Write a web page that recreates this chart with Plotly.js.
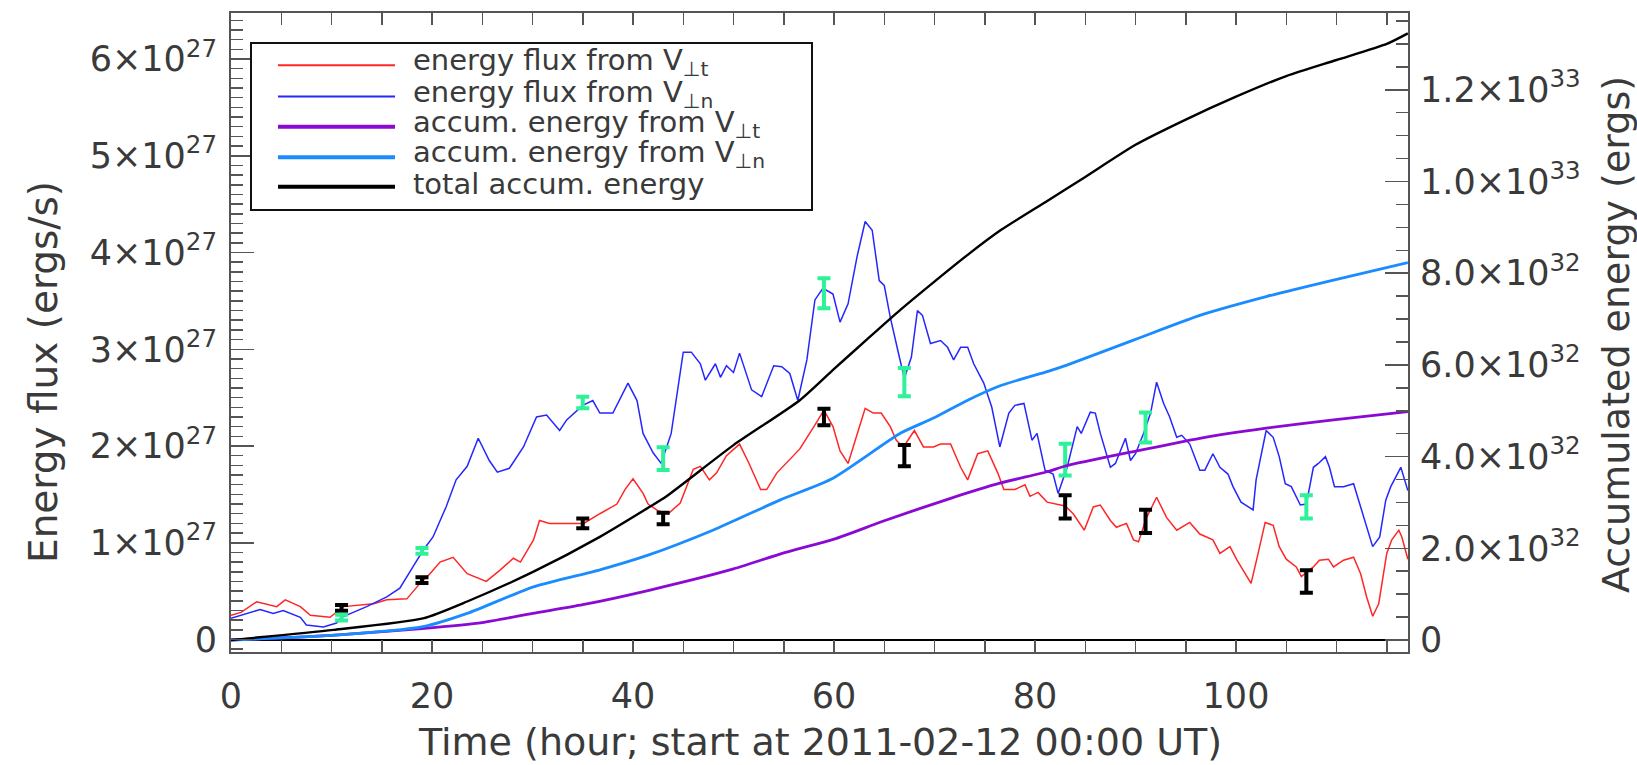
<!DOCTYPE html>
<html>
<head>
<meta charset="utf-8">
<script src="https://cdn.plot.ly/plotly-3.0.1.min.js"></script>
<style>
  html, body { margin: 0; padding: 0; background: #ffffff; }
  #chart { width: 1637px; height: 765px; }
</style>
</head>
<body>
<div id="chart"></div>
<script>
// Energy flux through the photosphere (units of 1e27 erg/s), time in hours from 2011-02-12 00:00 UT
const hoursT = [0,1,2.55,4.55,5.4,6.9,7.9,9.85,11.2,12.5,14.2,15.5,17.5,18.8,19.8,20.8,22.1,23.5,25.4,26.8,28.1,28.8,30.1,30.7,31.7,33.4,35.1,36.7,38.4,39.2,40,41,41.5,42.5,43.5,44.7,46,46.7,47.6,48.3,49.3,50.6,51.5,52.7,53.3,54.3,55.3,56.6,58,59,59.9,60.6,61.4,62.3,63.1,63.9,64.7,65.6,66.2,66.9,68,68.9,69.9,70.6,71.6,72.6,73.3,74.3,75.3,76.3,76.9,78,79,79.5,80.3,81.2,82,83,83.8,84.9,85.8,86.5,87.5,88.1,89.1,89.8,90.3,91.1,92.1,93.1,94.1,95.4,96.4,97.7,98.4,99.4,100.1,100.7,101.5,102.2,102.9,103.7,104.3,105,106,106.5,107.7,108.3,109.2,109.7,110.7,111.7,112.4,113,113.6,114.2,115,115.5,116.2,116.5,117.1];
const fluxT = [0.25,0.28,0.39,0.34,0.41,0.34,0.25,0.23,0.34,0.35,0.37,0.41,0.42,0.58,0.68,0.8,0.85,0.68,0.6,0.72,0.84,0.8,1.03,1.23,1.2,1.2,1.2,1.3,1.4,1.55,1.66,1.51,1.4,1.33,1.3,1.41,1.76,1.79,1.65,1.72,1.9,2.02,1.83,1.55,1.55,1.72,1.83,1.97,2.2,2.37,2.2,1.95,1.82,2.13,2.39,2.34,2.34,2.2,2.06,1.99,2.16,1.99,1.99,2.02,2.02,1.78,1.65,1.92,1.95,1.72,1.55,1.55,1.6,1.48,1.52,1.42,1.4,1.38,1.3,1.13,1.37,1.39,1.23,1.16,1.2,1.03,1.01,1.26,1.47,1.26,1.13,1.21,1.09,1.03,0.89,0.96,0.82,0.72,0.58,0.89,1.21,1.18,0.96,0.83,0.75,0.65,0.75,0.82,0.83,0.75,0.82,0.85,0.68,0.44,0.24,0.37,0.89,1.03,1.13,1.06,0.83];

const hoursN = [0,1.5,2.9,4.2,5.2,6.9,7.5,9.2,10.5,11,13.5,15.5,16.8,18.1,19.1,20.1,21.4,22.4,23.5,24.6,25.7,26.5,27.7,29.1,30.4,31.4,32.1,32.7,33.4,34.4,35,36,36.7,38,39.5,40.4,41,42,42.8,43.8,45,45.8,46.7,47.2,48.2,48.7,49.3,50,50.6,51.8,52.8,54,54.8,55.6,56.4,57.3,58.1,58.9,59.9,60.6,61.4,62.3,63.1,63.8,64.5,65,65.6,66.5,67,67.7,68.3,68.8,69.6,70.6,71.3,71.9,72.6,73.3,73.9,74.9,75.7,76.5,77.4,78,78.9,79.7,80.2,81,81.8,82.3,83.2,84.2,84.6,85.5,86,86.5,87.5,88,89,89.5,90,90.8,91.5,92.1,92.8,93.4,94.1,94.6,95.4,96.4,96.9,97.7,98.4,99.2,99.7,100.5,101.7,102,103,103.7,104.3,104.9,105.5,106.4,107,107.7,108.2,108.9,109.3,109.8,110.7,111.7,112.6,113.6,114.3,114.9,115.4,115.9,116.4,117.1];
const fluxN = [0.22,0.27,0.31,0.27,0.3,0.23,0.15,0.13,0.17,0.23,0.34,0.44,0.53,0.75,0.92,1.06,1.37,1.65,1.79,2.08,1.85,1.73,1.77,1.99,2.3,2.32,2.23,2.16,2.27,2.37,2.42,2.47,2.34,2.34,2.65,2.47,2.13,1.93,1.82,2.13,2.97,2.97,2.85,2.68,2.85,2.71,2.83,2.76,2.96,2.58,2.51,2.83,2.82,2.75,2.47,2.89,3.51,3.63,3.57,3.28,3.47,3.96,4.32,4.23,3.71,3.66,3.33,2.92,2.7,2.92,3.4,3.35,3.06,3.09,3.02,2.89,3.02,3.02,2.85,2.65,2.4,1.99,2.34,2.42,2.44,2.06,2.13,1.75,1.71,1.51,1.78,2.2,2.13,2.35,2.34,2.13,1.78,1.82,2.08,1.85,1.92,2.13,2.34,2.66,2.44,2.3,2.09,2.11,2.02,1.75,1.75,1.92,1.78,1.71,1.58,1.42,1.34,1.65,2.16,2.09,1.89,1.61,1.58,1.39,1.4,1.78,1.82,1.89,1.78,1.58,1.58,1.61,1.3,0.96,1.06,1.44,1.58,1.68,1.78,1.54];

// Accumulated energy (units of 1e32 erg)
const hoursAccT = [0,10,19,25,30,35,41.7,50,55,60,65,71.6,76.5,81.2,83.1,89.8,96.4,103,109.7,117.1];
const accT = [0,0.1,0.25,0.38,0.58,0.77,1.09,1.55,1.9,2.2,2.6,3.09,3.42,3.67,3.8,4.11,4.4,4.62,4.8,4.98];
const hoursAccN = [0,10,19.1,23.5,30.1,36.7,41.5,48,54.6,59.9,66.6,69.9,73.3,76.6,81.3,83.1,89.8,96.4,103,109.7,117.1];
const accN = [0,0.1,0.29,0.58,1.16,1.53,1.85,2.4,3.05,3.53,4.51,4.84,5.23,5.55,5.86,5.99,6.54,7.08,7.49,7.85,8.23];
const hoursAccTotal = [0,10.2,19.1,23.5,30.1,36.7,41.7,43.3,50,56.6,59.9,63.2,66.6,69.9,73.3,76.6,81.1,85,90,95,100,105,110,115,117.1];
const accTotal = [0,0.22,0.47,0.84,1.49,2.25,2.91,3.13,4.25,5.23,5.89,6.54,7.2,7.8,8.4,8.94,9.56,10.1,10.8,11.35,11.85,12.3,12.65,13.0,13.23];

// Sampled flux estimates with uncertainties (1e27 erg/s)
const sampleHours = [11,19,35,43,59,67,83,91,107];
const sampleT = [0.327,0.613,1.2,1.25,2.3,1.9,1.37,1.22,0.6];
const sampleTErr = [0.03,0.03,0.05,0.06,0.086,0.11,0.12,0.12,0.117];
const sampleN = [0.227,0.916,2.45,1.87,3.58,2.66,1.86,2.19,1.37];
const sampleNErr = [0.03,0.03,0.06,0.117,0.155,0.146,0.164,0.155,0.12];

// Axis ticks and titles
const xTickVals = [0,20,40,60,80,100];
const leftTickVals = [0,1,2,3,4,5,6];
const leftTickText = ['0','1×10<sup>27</sup>','2×10<sup>27</sup>','3×10<sup>27</sup>','4×10<sup>27</sup>','5×10<sup>27</sup>','6×10<sup>27</sup>'];
const rightTickVals = [0,2,4,6,8,10,12];
const rightTickText = ['0','2.0×10<sup>32</sup>','4.0×10<sup>32</sup>','6.0×10<sup>32</sup>','8.0×10<sup>32</sup>','1.0×10<sup>33</sup>','1.2×10<sup>33</sup>'];
const xTitle = 'Time (hour; start at 2011-02-12 00:00 UT)';
const leftTitle = 'Energy flux (ergs/s)';
const rightTitle = 'Accumulated energy (ergs)';

// Legend entries
const legendLabels = [
  'energy flux from V<sub>⊥t</sub>',
  'energy flux from V<sub>⊥n</sub>',
  'accum. energy from V<sub>⊥t</sub>',
  'accum. energy from V<sub>⊥n</sub>',
  'total accum. energy'
];
const seriesColors = ['#ff2626', '#2626ff', '#8a0ad4', '#1a8cff', '#000000'];
const seriesWidths = [1.5, 1.5, 2.8, 2.8, 2.4];
const legendWidths = [2, 2, 4, 4, 4];
const sampleColors = ['#000000', '#2ef29a'];

const FONT = '"DejaVu Sans", "Noto Sans", sans-serif';
const TXT = '#3a3a3a';
const FRAME = '#555555';

// Plot-area geometry in pixels
const W = 1637, H = 765;
const L = 231, R = 1408, T = 13, B = 652;
const px2x = p => (p - L) / (R - L);
const px2y = p => (B - p) / (B - T);

const traces = [
  {x: hoursT, y: fluxT, type: 'scatter', mode: 'lines', line: {color: seriesColors[0], width: seriesWidths[0]}, yaxis: 'y', hoverinfo: 'skip'},
  {x: hoursN, y: fluxN, type: 'scatter', mode: 'lines', line: {color: seriesColors[1], width: seriesWidths[1]}, yaxis: 'y', hoverinfo: 'skip'},
  {x: hoursAccT, y: accT, type: 'scatter', mode: 'lines', line: {color: seriesColors[2], width: seriesWidths[2], shape: 'spline', smoothing: 0.6}, yaxis: 'y2', hoverinfo: 'skip'},
  {x: hoursAccN, y: accN, type: 'scatter', mode: 'lines', line: {color: seriesColors[3], width: seriesWidths[3], shape: 'spline', smoothing: 0.6}, yaxis: 'y2', hoverinfo: 'skip'},
  {x: hoursAccTotal, y: accTotal, type: 'scatter', mode: 'lines', line: {color: seriesColors[4], width: seriesWidths[4], shape: 'spline', smoothing: 0.6}, yaxis: 'y2', hoverinfo: 'skip'},
  {x: sampleHours, y: sampleT, type: 'scatter', mode: 'markers', marker: {size: 1, color: sampleColors[0], opacity: 0}, yaxis: 'y',
   error_y: {type: 'data', array: sampleTErr, visible: true, color: sampleColors[0], thickness: 4, width: 6.5}, hoverinfo: 'skip'},
  {x: sampleHours, y: sampleN, type: 'scatter', mode: 'markers', marker: {size: 1, color: sampleColors[1], opacity: 0}, yaxis: 'y',
   error_y: {type: 'data', array: sampleNErr, visible: true, color: sampleColors[1], thickness: 4, width: 6.5}, hoverinfo: 'skip'}
];

const shapes = [];
const annotations = [];

// Legend: framed box with line samples and labels
const legBox = {x0: 251, x1: 812, y0: 43, y1: 210};
shapes.push({type: 'rect', xref: 'paper', yref: 'paper',
  x0: px2x(legBox.x0), x1: px2x(legBox.x1), y0: px2y(legBox.y1), y1: px2y(legBox.y0),
  line: {color: '#111111', width: 2}, fillcolor: '#ffffff', layer: 'above'});
const rowY = [65.3, 96.5, 126.7, 157.3, 186.7];
legendLabels.forEach((lab, i) => {
  shapes.push({type: 'line', xref: 'paper', yref: 'paper',
    x0: px2x(278), x1: px2x(395), y0: px2y(rowY[i]), y1: px2y(rowY[i]),
    line: {color: seriesColors[i], width: legendWidths[i]}, layer: 'above'});
  annotations.push({xref: 'paper', yref: 'paper', x: px2x(411), y: px2y(rowY[i] - 3),
    xanchor: 'left', yanchor: 'middle', showarrow: false, text: lab,
    font: {family: FONT, size: 29, color: TXT}});
});

// Axis titles
const titleFont = {family: FONT, size: 38, color: TXT};
annotations.push({xref: 'paper', yref: 'paper', x: px2x(819.5), y: px2y(742), xanchor: 'center', yanchor: 'middle',
  showarrow: false, text: xTitle, font: titleFont});
annotations.push({xref: 'paper', yref: 'paper', x: px2x(43), y: px2y(372), xanchor: 'center', yanchor: 'middle',
  showarrow: false, text: leftTitle, textangle: -90, font: {family: FONT, size: 39, color: TXT}});
annotations.push({xref: 'paper', yref: 'paper', x: px2x(1616), y: px2y(335), xanchor: 'center', yanchor: 'middle',
  showarrow: false, text: rightTitle, textangle: -90, font: titleFont});

const tickFont = {family: FONT, size: 35, color: TXT};
const layout = {
  width: W, height: H,
  margin: {l: L, r: W - R, t: T, b: H - B, pad: 0},
  paper_bgcolor: '#ffffff', plot_bgcolor: '#ffffff',
  showlegend: false,
  font: {family: FONT, color: TXT, size: 35},
  xaxis: {
    range: [0, (R - L) / 10.05], tickvals: xTickVals, ticktext: xTickVals.map(String),
    ticks: 'inside', ticklen: 12, tickwidth: 1.5, tickcolor: FRAME,
    minor: {dtick: 5, tick0: 0, ticks: 'inside', ticklen: 6, tickwidth: 1.5, tickcolor: FRAME},
    showline: true, linecolor: FRAME, linewidth: 2, mirror: 'allticks',
    showgrid: false, zeroline: false,
    tickfont: tickFont, ticklabelstandoff: 12
  },
  yaxis: {
    range: [-(B - 639.5) / 96.75, (639.5 - T) / 96.75],
    tickvals: leftTickVals, ticktext: leftTickText,
    ticks: 'inside', ticklen: 23, tickwidth: 1.5, tickcolor: FRAME,
    minor: {dtick: 0.1, tick0: 0, ticks: 'inside', ticklen: 12, tickwidth: 1.5, tickcolor: FRAME},
    showline: true, linecolor: FRAME, linewidth: 2, mirror: false,
    showgrid: false, zeroline: true, zerolinecolor: '#000000', zerolinewidth: 2,
    tickfont: tickFont, ticklabelstandoff: 5
  },
  yaxis2: {
    overlaying: 'y', side: 'right',
    range: [-(B - 640) / 45.85, (640 - T) / 45.85],
    tickvals: rightTickVals, ticktext: rightTickText,
    ticks: 'inside', ticklen: 23, tickwidth: 1.5, tickcolor: FRAME,
    minor: {dtick: 0.5, tick0: 0, ticks: 'inside', ticklen: 12, tickwidth: 1.5, tickcolor: FRAME},
    showline: true, linecolor: FRAME, linewidth: 2,
    showgrid: false, zeroline: false,
    tickfont: tickFont, ticklabelstandoff: 3
  },
  shapes: shapes,
  annotations: annotations
};

Plotly.newPlot('chart', traces, layout, {staticPlot: true, displayModeBar: false});
</script>
</body>
</html>
